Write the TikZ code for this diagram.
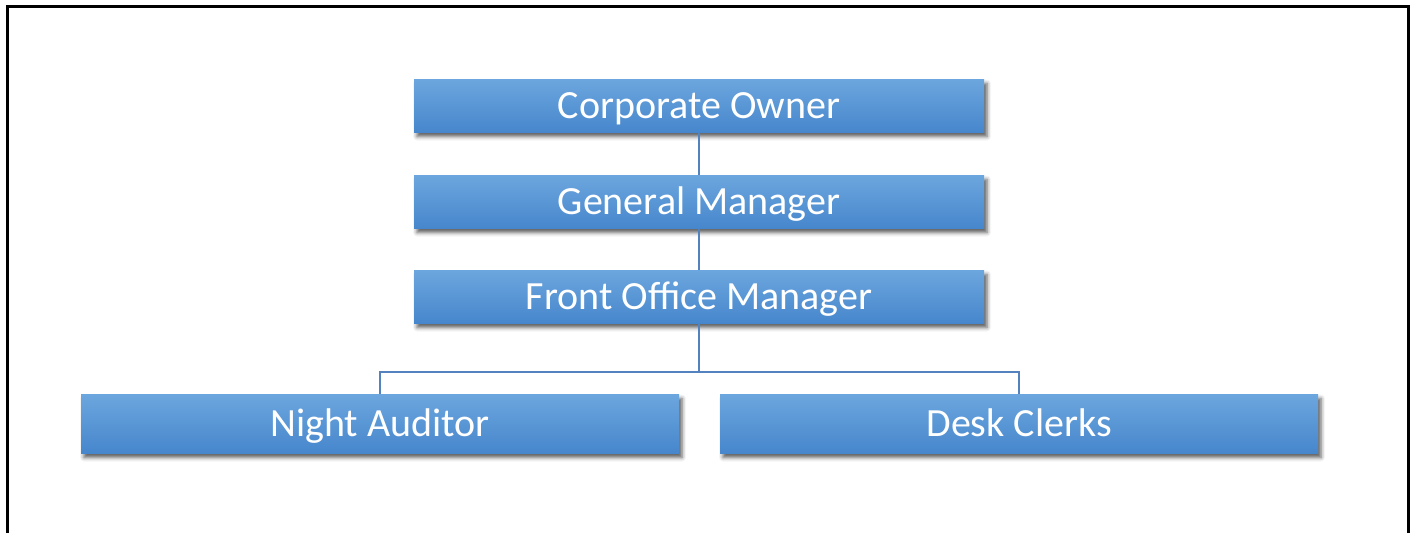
\documentclass[tikz,border=0pt]{standalone}
\usepackage{fontspec}
\setmainfont{Carlito}
\usetikzlibrary{shadows.blur}

\definecolor{boxtop}{RGB}{108,166,222}
\definecolor{boxbot}{RGB}{70,134,204}
\definecolor{linkblue}{RGB}{84,130,190}

\tikzset{
	role/.style={rectangle, minimum height=53pt, inner sep=0pt,
		text height=25pt, text depth=0pt,
		top color=boxtop, bottom color=boxbot, text=white,
		font=\fontsize{40}{46}\selectfont,
		blur shadow={shadow xshift=3pt, shadow yshift=-4pt,
			shadow blur radius=4pt, shadow opacity=65}},
	link/.style={draw=linkblue, line width=1.4pt}
}

\begin{document}
\begin{tikzpicture}[x=1pt, y=1pt]
			% page size
			\useasboundingbox (0,0) rectangle (1412,-533);

			% frame
			\draw[line width=3pt]	(7,-533)	--	(7,-6)	--	(1408,-6)	--	(1408,-533);

			% roles
			\node[role, minimum width=570pt]	(owner)	at (699,-106)	{Corporate Owner};
			\node[role, minimum width=570pt]	(gm)	at (699,-202)	{General Manager};
			\node[role, minimum width=570pt]	(fom)	at (699,-297)	{Front Office Manager};
			\node[role, minimum width=598pt, minimum height=59pt]	(night)	at (380,-424)	{Night Auditor};
			\node[role, minimum width=598pt, minimum height=59pt]	(desk)	at (1019,-424)	{Desk Clerks};

			% reporting lines
			\coordinate	(bus)	at (699,-372);
			\draw[link]	(owner.south)	--	(gm.north);
			\draw[link]	(gm.south)	--	(fom.north);
			\draw[link]	(fom.south)	--	(bus);
			\draw[link]	(bus)	-|	(night.north);
			\draw[link]	(bus)	-|	(desk.north);
		\end{tikzpicture}
\end{document}
